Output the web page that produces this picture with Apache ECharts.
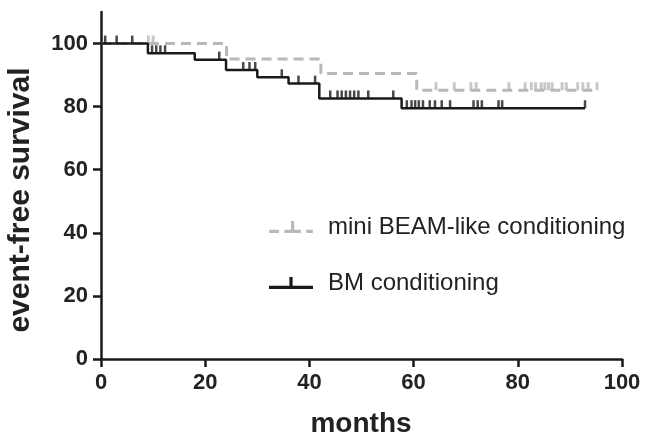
<!DOCTYPE html>
<html>
<head>
<meta charset="utf-8">
<script src="https://cdn.jsdelivr.net/npm/echarts@6/dist/echarts.min.js"></script>
<style>
  html, body { margin: 0; padding: 0; background: #fff; }
  #chart { width: 646px; height: 440px; }
</style>
</head>
<body>
<div id="chart"></div>
<script>
// Kaplan-Meier steps (months, % surviving after the event)
var miniName = 'mini BEAM-like conditioning';
var miniEventTimes = [24.1, 42.2, 60.6];
var miniSurv = [95.1, 90.5, 85.2];
var miniEnd = 95.2;
var miniCensor = [9.1, 10.0, 64.3, 67.8, 71.0, 72.0, 78.3, 81.4, 82.6, 83.4, 84.5, 85.2, 85.9, 86.6, 88.5, 89.3, 91.5, 92.5, 93.5, 95.2];

var bmName = 'BM conditioning';
var bmEventTimes = [9.0, 18.0, 24.0, 30.0, 36.0, 41.9, 57.7];
var bmSurv = [96.9, 94.9, 91.6, 89.3, 87.3, 82.6, 79.5];
var bmEnd = 92.9;
var bmCensor = [0.8, 3.0, 6.0, 9.8, 10.6, 11.4, 12.3, 22.7, 27.3, 28.5, 29.6, 34.7, 37.9, 41.1, 44.0, 45.4, 46.2, 47.0, 47.8, 48.6, 49.4, 51.3, 56.1, 58.7, 59.6, 60.3, 61.0, 61.8, 63.1, 64.1, 65.4, 67.0, 71.5, 72.3, 73.1, 76.3, 77.0, 92.9];

var xTicks = [0, 20, 40, 60, 80, 100];
var yTicks = [0, 20, 40, 60, 80, 100];

var grayCol = '#b9b9b9';
var blackCol = '#1a1a1a';

function stepLine(times, surv, end) {
    var arr = [[0, 100]];
    for (var i = 0; i < times.length; i++) {
        arr.push([times[i], surv[i]]);
    }
    arr.push([end, surv[surv.length - 1]]);
    return arr;
}

// survival value at a given time (for placing the censor marks on the curve)
function survAt(t, times, surv) {
    var s = 100;
    for (var i = 0; i < times.length; i++) {
        if (times[i] <= t) s = surv[i];
    }
    return s;
}

function censorPts(cens, times, surv) {
    var arr = [];
    for (var i = 0; i < cens.length; i++) {
        arr.push([cens[i], survAt(cens[i], times, surv)]);
    }
    return arr;
}

var tickMark = 'path://M0,0 L2,0 L2,10 L0,10 Z';
var font = '"Liberation Sans", Arial, sans-serif';

var myChart = echarts.init(document.getElementById('chart'), null, { renderer: 'canvas' });

var option = {
    animation: false,
    grid: { left: 101, right: 24, top: 12, bottom: 81, containLabel: false },
    legend: {
        orient: 'vertical',
        left: 264,
        top: 210,
        itemGap: 32,
        itemWidth: 44,
        itemHeight: 12,
        textStyle: { fontFamily: font, fontSize: 24, color: '#222', padding: [0, 0, 0, 10] },
        data: [
            { name: miniName, icon: 'path://M0,8 L9,8 L9,11 L0,11 Z M14,8 L20,8 L20,0 L23,0 L23,8 L29,8 L29,11 L14,11 Z M34,8 L40,8 L40,11 L34,11 Z', itemStyle: { color: grayCol } },
            { name: bmName, icon: 'path://M0,8 L19,8 L19,0 L22,0 L22,8 L41,8 L41,11 L0,11 Z', itemStyle: { color: blackCol } }
        ]
    },
    xAxis: {
        type: 'value',
        min: 0,
        max: 100,
        interval: 20,
        axisLine: { show: true, onZero: false, lineStyle: { color: blackCol, width: 2.5 } },
        axisTick: { show: true, length: 8, lineStyle: { color: blackCol, width: 2.5 }, customValues: xTicks },
        axisLabel: { margin: 13, fontFamily: font, fontSize: 22, fontWeight: 'bold', color: '#222', customValues: xTicks },
        splitLine: { show: false }
    },
    yAxis: {
        type: 'value',
        min: 0,
        max: 110,
        interval: 20,
        axisLine: { show: true, onZero: false, lineStyle: { color: blackCol, width: 2.5 } },
        axisTick: { show: true, length: 8, lineStyle: { color: blackCol, width: 2.5 }, customValues: yTicks },
        axisLabel: { margin: 13, fontFamily: font, fontSize: 22, fontWeight: 'bold', color: '#222', customValues: yTicks },
        splitLine: { show: false }
    },
    graphic: [
        {
            type: 'text',
            x: 361, y: 424,
            style: { text: 'months', align: 'center', verticalAlign: 'middle', fontFamily: font, fontSize: 28, fontWeight: 'bold', fill: '#222' }
        },
        {
            type: 'text',
            x: 21, y: 200, rotation: Math.PI / 2,
            style: { text: 'event-free survival', align: 'center', verticalAlign: 'middle', fontFamily: font, fontSize: 30, fontWeight: 'bold', fill: '#222' }
        }
    ],
    series: [
        {
            name: miniName,
            type: 'line',
            step: 'end',
            showSymbol: false,
            symbol: 'none',
            z: 2,
            lineStyle: { color: grayCol, width: 3, type: [10, 6] },
            data: stepLine(miniEventTimes, miniSurv, miniEnd)
        },
        {
            name: miniName,
            type: 'scatter',
            symbol: tickMark,
            symbolSize: [3, 8],
            symbolOffset: [0, -4],
            z: 2,
            itemStyle: { color: grayCol },
            data: censorPts(miniCensor, miniEventTimes, miniSurv)
        },
        {
            name: bmName,
            type: 'line',
            step: 'end',
            showSymbol: false,
            symbol: 'none',
            z: 3,
            lineStyle: { color: blackCol, width: 2.5 },
            data: stepLine(bmEventTimes, bmSurv, bmEnd)
        },
        {
            name: bmName,
            type: 'scatter',
            symbol: tickMark,
            symbolSize: [2.5, 8],
            symbolOffset: [0, -4],
            z: 3,
            itemStyle: { color: blackCol },
            data: censorPts(bmCensor, bmEventTimes, bmSurv)
        }
    ]
};

myChart.setOption(option);
</script>
</body>
</html>
